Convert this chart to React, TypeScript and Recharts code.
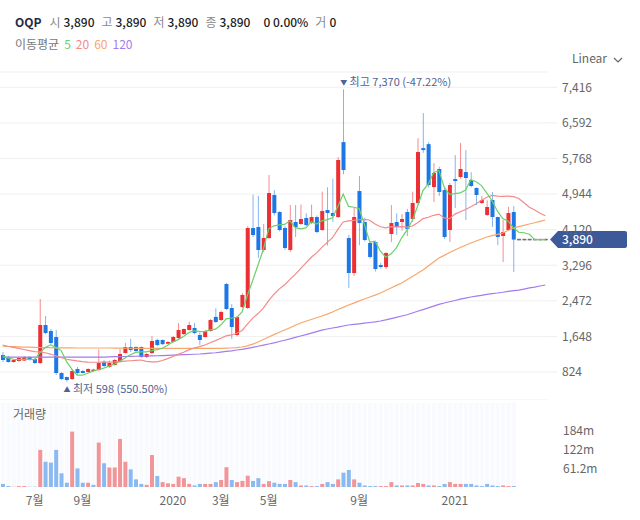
import React from 'react';
import { ComposedChart, Bar, Line, XAxis, YAxis, CartesianGrid, ReferenceDot, ReferenceLine, Cell } from 'recharts';

// ---------- data ----------
const symbol = 'OQP';
const firstWeek = Date.UTC(2019, 4, 24);

const opens = [1218,1171,1056,1079,1090,1171,1125,1032,1912,1773,
  1634,801,708,662,894,847,824,847,870,1056,
  940,986,1056,1264,1403,1403,1403,1171,1264,1565,
  1565,1480,1519,1611,1704,1796,1843,1681,1634,1773,
  2100,2028,2861,2306,1681,2329,2306,4158,4181,3649,
  3926,4922,4528,4158,3649,4297,4251,4389,4274,4412,
  4112,4575,4505,4412,6147,3926,3116,5014,4297,3811,
  3834,3301,3255,4019,4297,4297,4528,4366,4737,6008,
  6100,5107,5524,5037,4112,5292,5339,5454,5269,5084,
  4737,4459,4806,4412,3973,4112,4528,3890,3890,3890,
  3890,3890,3890];
const highs = [1287,1200,1120,1171,1190,1180,1148,2514,2120,1820,
  1800,820,720,894,940,870,910,900,1350,1100,
  1090,1130,1357,1500,1590,1420,1420,1260,1658,1600,
  1580,1540,1660,1960,1830,1990,1960,1750,1800,2050,
  2300,2240,2885,2400,2120,2650,4200,4930,4900,4250,
  5385,5037,4550,4200,4690,4690,4700,4500,4700,4450,
  5000,5100,5300,5800,7370,4000,4620,5360,4400,3850,
  3850,3350,3600,4690,4500,4480,4600,5000,6239,6818,
  6150,5663,5580,5100,5200,5847,6125,5963,5450,5100,
  4900,4800,4991,4420,4343,4650,4667,3890,3890,3890,
  3890,3890,3890];
const lows = [1056,1040,1040,1060,1079,1090,1010,1010,1700,1450,
  755,640,598,640,760,790,810,830,850,940,
  920,970,1040,1250,1287,1290,1148,1148,1241,1420,
  1450,1470,1500,1590,1680,1780,1700,1450,1620,1760,
  1960,2000,2260,1590,1650,2300,2280,3950,3463,3600,
  3900,4450,4080,3650,3600,3950,4230,4200,4250,4040,
  4090,3750,4300,4390,5400,2769,3050,3760,3850,3450,
  3150,3220,3200,3834,4000,4100,3970,4300,4700,5900,
  5100,4760,4900,3900,3834,4622,5300,4343,5100,4690,
  4720,4440,4181,3764,3371,4090,3139,3890,3890,3890,
  3890,3890,3890];
const closes = [1102,1056,1102,1148,1171,1102,1032,1912,1727,1496,
  801,662,639,847,801,801,894,880,1032,963,
  1032,1102,1241,1403,1333,1310,1171,1241,1542,1449,
  1470,1519,1634,1796,1820,1912,1727,1565,1773,2028,
  1982,2213,2283,1866,2097,2607,4158,3996,3649,3926,
  4968,4505,4112,3695,4343,4181,4366,4227,4412,4065,
  4551,4505,4436,5732,5501,3116,4412,4274,3880,3487,
  3209,3255,3579,4274,4181,4366,4135,4737,5917,5963,
  5153,5431,4991,3950,5153,5246,5524,5316,5130,4922,
  4806,4644,4412,3950,4065,4505,3890,3890,3890,3890,
  3890,3890,3890];
// volume in millions
const volumes = [10,3,1,3,3,1,1,122,83,80,
  122,45,14,182,61,14,14,7,146,78,
  64,64,158,83,58,25,10,7,105,36,
  16,12,10,34,29,10,5,10,10,10,
  16,23,65,23,16,20,37,20,29,10,
  19,14,10,10,23,16,5,5,3,3,
  10,16,10,25,47,56,25,14,5,3,
  3,3,3,16,5,5,5,5,13,10,
  5,5,3,10,16,10,10,10,10,5,
  3,10,5,3,5,3,3,0,0,0,
  0,0,0];
const ma5Early = [1200,1150,1120,1110];
const ma20Early = [1450,1420,1395,1370,1345,1320,1295,1290,1270,1240,1200,1160,1120,1100,1080,1065,1055,1050,1050];
const ma60 = [1420,1415,1410,1405,1400,1398,1395,1392,1390,1388,
  1385,1383,1382,1381,1380,1380,1380,1380,1380,1380,
  1380,1378,1376,1375,1374,1373,1372,1371,1370,1370,
  1370,1370,1370,1370,1370,1370,1370,1370,1370,1370,
  1370,1370,1375,1380,1390,1403,1430,1470,1520,1575,
  1634,1690,1745,1796,1850,1905,1959,2000,2040,2080,
  2121,2165,2213,2270,2320,2375,2420,2470,2514,2560,
  2605,2653,2710,2770,2830,2885,2960,3035,3110,3186,
  3280,3370,3463,3525,3590,3649,3705,3760,3811,3858,
  3905,3950,3980,4010,4042,4100,4158,4190,4220,4251,
  4280,4310,4343];
const ma120 = [1170,1170,1170,1170,1170,1170,1170,1170,1170,1170,
  1170,1170,1170,1170,1170,1170,1170,1170,1170,1170,
  1175,1178,1180,1183,1186,1189,1192,1195,1198,1200,
  1205,1210,1215,1220,1225,1230,1235,1241,1250,1260,
  1270,1285,1300,1315,1333,1350,1370,1395,1420,1446,
  1472,1500,1530,1560,1590,1625,1658,1690,1725,1760,
  1795,1820,1843,1865,1890,1912,1925,1940,1955,1970,
  1985,2005,2030,2060,2090,2120,2150,2190,2230,2270,
  2310,2350,2390,2421,2450,2480,2510,2535,2560,2580,
  2600,2620,2640,2653,2670,2690,2710,2722,2745,2770,
  2790,2815,2838];

const priceTicks = [824, 1648, 2472, 3296, 4120, 4944, 5768, 6592, 7416];
const volumeTicks = [61.2, 122.4, 183.6];
const monthTicks = [
  { date: '2019-07-05', label: '7월' },
  { date: '2019-09-06', label: '9월' },
  { date: '2020-01-03', label: '2020' },
  { date: '2020-03-06', label: '3월' },
  { date: '2020-05-08', label: '5월' },
  { date: '2020-09-04', label: '9월' },
  { date: '2021-01-08', label: '2021' },
];
const maPeriods = [5, 20, 60, 120];

// ---------- styling ----------
const RED = '#ec2f33';
const BLUE = '#1d78e6';
const MA_COLORS = ['#6ad16a', '#f58a8a', '#f7a76c', '#a57af0'];
const FONT = "'Noto Sans CJK KR', 'Noto Sans', sans-serif";
const TAG = '#3d5a98';

// ---------- derived ----------
const dates = opens.map((_, i) => new Date(firstWeek + i * 7 * 86400000).toISOString().slice(0, 10));
const sma = (n: number, early: number[]) =>
  closes.map((_, i) => {
    if (i < early.length) return early[i];
    let s = 0;
    for (let k = i - n + 1; k <= i; k++) s += closes[k];
    return Math.round(s / n);
  });
const ma5 = sma(5, ma5Early);
const ma20 = sma(20, ma20Early);

const rows = dates.map((date, i) => ({
  date,
  open: opens[i],
  high: highs[i],
  low: lows[i],
  close: closes[i],
  range: [lows[i], highs[i]],
  vol: volumes[i],
  ma5: ma5[i],
  ma20: ma20[i],
  ma60: ma60[i],
  ma120: ma120[i],
}));

const volColor = (i: number) => {
  const prev = i > 0 ? closes[i - 1] : opens[i];
  if (closes[i] > prev) return RED;
  if (closes[i] < prev) return BLUE;
  return closes[i] >= opens[i] ? RED : BLUE;
};

const fmt = (v: number) => v.toLocaleString('en-US');
const last = rows[rows.length - 1];
const prevClose = closes[closes.length - 2];
const change = last.close - prevClose;
const changePct = ((change / prevClose) * 100).toFixed(2);

let maxIdx = 0;
let minIdx = 0;
highs.forEach((h, i) => { if (h > highs[maxIdx]) maxIdx = i; });
lows.forEach((l, i) => { if (l < lows[minIdx]) minIdx = i; });
const maxPct = (((last.close - highs[maxIdx]) / highs[maxIdx]) * 100).toFixed(2);
const minPct = (((last.close - lows[minIdx]) / lows[minIdx]) * 100).toFixed(2);

const tickLabel: Record<string, string> = {};
monthTicks.forEach((t) => { tickLabel[t.date] = t.label; });

// ---------- shapes ----------
const Candle = (props: any) => {
  const { x, y, width, height, payload } = props;
  if (!payload) return null;
  const { open, close, high, low } = payload;
  if (high === low) {
    return <line x1={x} x2={x + width} y1={y} y2={y} stroke="#707070" strokeWidth={1.6} />;
  }
  const up = close >= open;
  const color = up ? RED : BLUE;
  const cx = x + width / 2;
  const k = height / (high - low);
  const yOf = (v: number) => y + (high - v) * k;
  const top = yOf(Math.max(open, close));
  const bot = yOf(Math.min(open, close));
  return (
    <g>
      <line x1={cx} x2={cx} y1={y} y2={y + height} stroke={color} strokeOpacity={0.55} strokeWidth={1} />
      <rect x={x} y={top} width={width} height={Math.max(1, bot - top)} fill={color} />
    </g>
  );
};

const HighLabel = (props: any) => {
  const vb = props.viewBox || {};
  const cx = vb.x + (vb.width || 0) / 2;
  const cy = vb.y + (vb.height || 0) / 2;
  return (
    <text x={cx - 3} y={cy - 3} fontSize={11} fill="#4e6296" fontFamily={FONT}>
      <tspan fontSize={7} dy={-1}>▼</tspan>
      <tspan dy={1}>{` 최고 ${fmt(highs[maxIdx])} (${maxPct}%)`}</tspan>
    </text>
  );
};

const LowLabel = (props: any) => {
  const vb = props.viewBox || {};
  const cx = vb.x + (vb.width || 0) / 2;
  const cy = vb.y + (vb.height || 0) / 2;
  return (
    <text x={cx - 3} y={cy + 11} fontSize={11} fill="#4e6296" fontFamily={FONT}>
      <tspan fontSize={7} dy={-1}>▲</tspan>
      <tspan dy={1}>{` 최저 ${fmt(lows[minIdx])} (${minPct}%)`}</tspan>
    </text>
  );
};

const PriceFlag = (props: any) => {
  const vb = props.viewBox || {};
  const x0 = vb.x + (vb.width || 0);
  const y0 = vb.y;
  const h = 8.5;
  return (
    <g>
      <path
        d={`M${x0 + 2},${y0} L${x0 + 10},${y0 - h} L${x0 + 77},${y0 - h} Q${x0 + 79},${y0 - h} ${x0 + 79},${y0 - h + 2} L${x0 + 79},${y0 + h - 2} Q${x0 + 79},${y0 + h} ${x0 + 77},${y0 + h} L${x0 + 10},${y0 + h} Z`}
        fill={TAG}
      />
      <text x={x0 + 14} y={y0 + 4.5} fontSize={12} fill="#ffffff" fontFamily={FONT} fontWeight={500}>
        {fmt(last.close)}
      </text>
    </g>
  );
};

const gray = '#8a8a8a';
const dark = '#222';

export default function App() {
  return (
    <div style={{ position: 'absolute', left: 0, top: 0, width: 640, height: 520, background: '#fff', fontFamily: FONT }}>
      {/* header */}
      <div style={{ position: 'absolute', left: 15, top: 13, fontSize: 12, lineHeight: '18px', whiteSpace: 'nowrap', color: dark }}>
        <span style={{ fontWeight: 700, color: '#1f2a44' }}>{symbol}</span>
        <span style={{ color: gray, marginLeft: 8 }}>시</span>
        <span style={{ marginLeft: 3, fontWeight: 500 }}>{fmt(last.open)}</span>
        <span style={{ color: gray, marginLeft: 7 }}>고</span>
        <span style={{ marginLeft: 3, fontWeight: 500 }}>{fmt(last.high)}</span>
        <span style={{ color: gray, marginLeft: 7 }}>저</span>
        <span style={{ marginLeft: 3, fontWeight: 500 }}>{fmt(last.low)}</span>
        <span style={{ color: gray, marginLeft: 7 }}>종</span>
        <span style={{ marginLeft: 3, fontWeight: 500 }}>{fmt(last.close)}</span>
        <span style={{ marginLeft: 13, fontWeight: 500 }}>{fmt(change)} {changePct}%</span>
        <span style={{ color: gray, marginLeft: 7 }}>거</span>
        <span style={{ marginLeft: 3, fontWeight: 500 }}>{fmt(last.vol)}</span>
      </div>
      <div style={{ position: 'absolute', left: 15, top: 35, fontSize: 12, lineHeight: '18px', whiteSpace: 'nowrap' }}>
        <span style={{ color: '#777' }}>이동평균</span>
        {maPeriods.map((p, i) => (
          <span key={p} style={{ color: MA_COLORS[i], marginLeft: 5 }}>{p}</span>
        ))}
      </div>
      <div style={{ position: 'absolute', left: 572, top: 49, fontSize: 12, lineHeight: '18px', color: '#666' }}>
        Linear
        <svg width={10} height={8} style={{ marginLeft: 6, verticalAlign: 'middle' }}>
          <polyline points="1,2 5,6 9,2" fill="none" stroke="#666" strokeWidth={1.2} />
        </svg>
      </div>

      {/* price pane */}
      <div style={{ position: 'absolute', left: 0, top: 0 }}>
        <ComposedChart width={640} height={400} data={rows} margin={{ top: 72, right: 0, left: 0, bottom: 0 }}>
          <CartesianGrid vertical={false} stroke="#f0f0f0" />
          <XAxis dataKey="date" hide />
          <YAxis
            orientation="right"
            width={92}
            domain={[176, 7770]}
            allowDataOverflow
            ticks={priceTicks}
            interval={0}
            tickFormatter={(v: number) => fmt(v)}
            axisLine={false}
            tickLine={{ stroke: '#eeeeee' }}
            tickSize={9}
            tickMargin={5}
            tick={{ fill: '#666', fontSize: 12, fontFamily: FONT }}
          />
          <Line dataKey="ma120" stroke={MA_COLORS[3]} strokeWidth={1.2} dot={false} isAnimationActive={false} />
          <Line dataKey="ma60" stroke={MA_COLORS[2]} strokeWidth={1.2} dot={false} isAnimationActive={false} />
          <Line dataKey="ma20" stroke={MA_COLORS[1]} strokeWidth={1.2} dot={false} isAnimationActive={false} />
          <Bar dataKey="range" barSize={4} shape={<Candle />} isAnimationActive={false} />
          <Line dataKey="ma5" stroke={MA_COLORS[0]} strokeWidth={1.2} dot={false} isAnimationActive={false} />
          <ReferenceDot x={rows[maxIdx].date} y={highs[maxIdx]} r={0} fill="none" stroke="none" label={HighLabel} />
          <ReferenceDot x={rows[minIdx].date} y={lows[minIdx]} r={0} fill="none" stroke="none" label={LowLabel} />
          <ReferenceLine y={last.close} stroke="none" label={PriceFlag} />
        </ComposedChart>
      </div>

      {/* volume pane */}
      <div style={{ position: 'absolute', left: 0, top: 400 }}>
        <ComposedChart width={640} height={120} data={rows} margin={{ top: 3, right: 0, left: 0, bottom: 0 }}>
          <XAxis
            dataKey="date"
            ticks={monthTicks.map((t) => t.date)}
            interval={0}
            tickFormatter={(d: string) => tickLabel[d] || ''}
            axisLine={false}
            tickLine={false}
            height={33}
            tickMargin={3}
            tick={{ fill: '#666', fontSize: 12, fontFamily: FONT }}
          />
          <YAxis
            orientation="right"
            width={92}
            domain={[0, 276]}
            ticks={volumeTicks}
            interval={0}
            tickFormatter={(v: number) => (v < 100 ? `${v.toFixed(1)}m` : `${Math.round(v)}m`)}
            axisLine={false}
            tickLine={false}
            tickSize={6}
            tickMargin={9}
            tick={{ fill: '#666', fontSize: 12, fontFamily: FONT }}
          />
          <Bar dataKey="vol" barSize={4} background={{ fill: '#f2f5fb' }} isAnimationActive={false}>
            {rows.map((r, i) => (
              <Cell key={r.date} fill={volColor(i)} fillOpacity={0.5} />
            ))}
          </Bar>
        </ComposedChart>
        <div style={{ position: 'absolute', left: 13, top: 6, fontSize: 12, color: '#666', lineHeight: '16px' }}>거래량</div>
      </div>
    </div>
  );
}
